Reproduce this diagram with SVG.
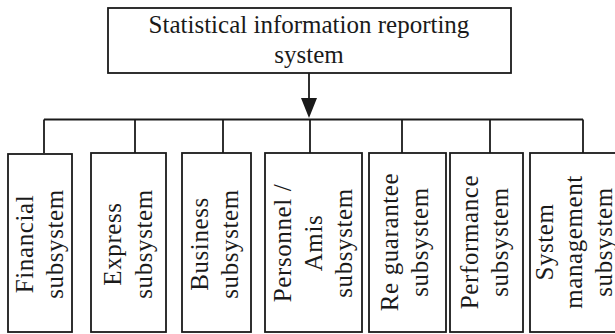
<svg xmlns="http://www.w3.org/2000/svg" width="615" height="334" viewBox="0 0 615 334">
<style>
  .box { fill: #ffffff; stroke: #1a1a1a; stroke-width: 1.8; }
  .t { font-family: "Liberation Serif", "Times New Roman", serif; font-size: 25px; fill: #1a1a1a; text-anchor: middle; }
  .v { letter-spacing: 0.6px; }
  .ln { stroke: #1a1a1a; stroke-width: 1.8; fill: none; }
</style>
<rect width="615" height="334" fill="#ffffff"/>
<g id="connectors">
  <line class="ln" x1="309" y1="73" x2="309" y2="104"/>
  <polygon points="301,98 317,98 309,118" fill="#1a1a1a"/>
  <line class="ln" x1="44" y1="119.5" x2="583" y2="119.5"/>
  <line class="ln" x1="44" y1="119.5" x2="44" y2="153"/>
  <line class="ln" x1="135" y1="119.5" x2="135" y2="153"/>
  <line class="ln" x1="223" y1="119.5" x2="223" y2="153"/>
  <line class="ln" x1="310" y1="119.5" x2="310" y2="153"/>
  <line class="ln" x1="402" y1="119.5" x2="402" y2="153"/>
  <line class="ln" x1="490" y1="119.5" x2="490" y2="153"/>
  <line class="ln" x1="583" y1="119.5" x2="583" y2="153"/>
</g>
<g id="root">
  <rect class="box" x="108" y="8" width="403" height="65"/>
  <text class="t" x="309" y="33">Statistical information reporting</text>
  <text class="t" x="309" y="63">system</text>
</g>
<g id="financial">
  <rect class="box" x="8" y="154" width="64" height="178"/>
  <text class="t v" transform="translate(33,244) rotate(-90)">Financial</text>
  <text class="t v" transform="translate(63,244) rotate(-90)">subsystem</text>
</g>
<g id="express">
  <rect class="box" x="91" y="153" width="75" height="179"/>
  <text class="t v" transform="translate(121,244) rotate(-90)">Express</text>
  <text class="t v" transform="translate(152,244) rotate(-90)">subsystem</text>
</g>
<g id="business">
  <rect class="box" x="182" y="153" width="69" height="179"/>
  <text class="t v" transform="translate(208,244) rotate(-90)">Business</text>
  <text class="t v" transform="translate(238,244) rotate(-90)">subsystem</text>
</g>
<g id="personnel">
  <rect class="box" x="265" y="153" width="97" height="179"/>
  <text class="t v" transform="translate(291,243) rotate(-90)">Personnel /</text>
  <text class="t v" transform="translate(322,243) rotate(-90)">Amis</text>
  <text class="t v" transform="translate(352,243) rotate(-90)">subsystem</text>
</g>
<g id="reguarantee">
  <rect class="box" x="369" y="153" width="77" height="179"/>
  <text class="t v" transform="translate(398,242) rotate(-90)">Re guarantee</text>
  <text class="t v" transform="translate(428,242) rotate(-90)">subsystem</text>
</g>
<g id="performance">
  <rect class="box" x="450" y="153" width="73" height="179"/>
  <text class="t v" transform="translate(478,242) rotate(-90)">Performance</text>
  <text class="t v" transform="translate(508,242) rotate(-90)">subsystem</text>
</g>
<g id="sysmgmt">
  <rect class="box" x="530" y="153" width="100" height="179"/>
  <text class="t v" transform="translate(553,242) rotate(-90)">System</text>
  <text class="t v" transform="translate(582,242) rotate(-90)">management</text>
  <text class="t v" transform="translate(612,242) rotate(-90)">subsystem</text>
</g>
</svg>
